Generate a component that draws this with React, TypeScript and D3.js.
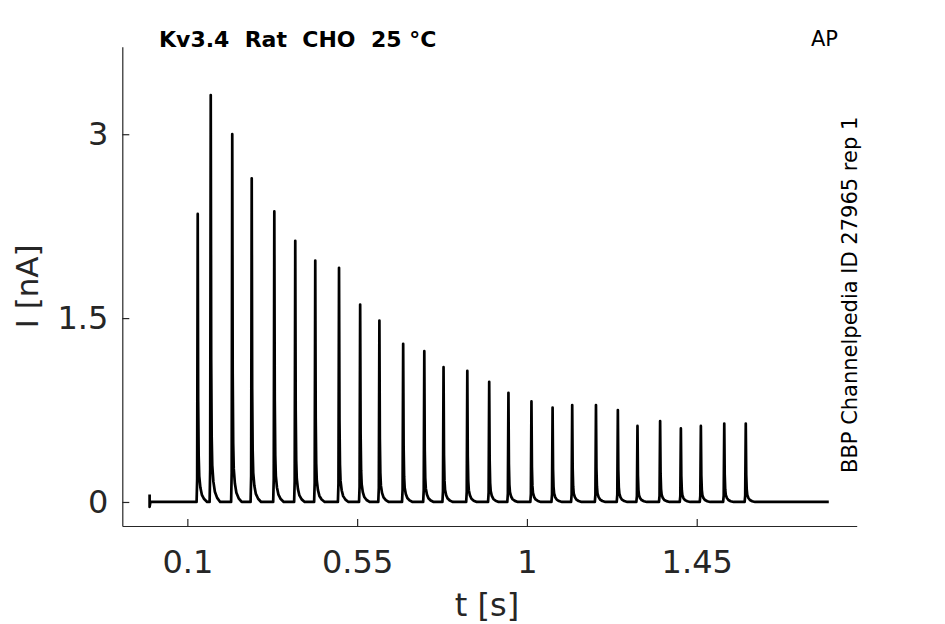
import { useEffect, useRef } from 'react';
import { axisBottom, axisLeft, line, scaleLinear, select } from 'd3';

// AP protocol: peak current of each spike (time in s, current in nA)
const peakTimes = [
  0.1275, 0.162, 0.219, 0.2706, 0.3305, 0.386, 0.439, 0.502, 0.558, 0.609,
  0.672, 0.728, 0.779, 0.842, 0.9, 0.951, 1.012, 1.068, 1.12, 1.183, 1.241,
  1.293, 1.353, 1.408, 1.461, 1.523, 1.58,
];
const peakAmps = [
  2.35, 3.32, 3.0, 2.64, 2.37, 2.13, 1.97, 1.91, 1.61, 1.48, 1.29, 1.23, 1.1,
  1.07, 0.98, 0.89, 0.82, 0.77, 0.79, 0.79, 0.75, 0.62, 0.66, 0.6, 0.62, 0.64,
  0.64,
];
// shape of one spike: offset from peak (s) and fraction of peak
const spikeOffsets = [-0.003, -0.0015, 0, 0.0012, 0.0025, 0.004, 0.007, 0.011, 0.017, 0.025];
const spikeFractions = [0, 0.08, 1, 0.35, 0.16, 0.09, 0.05, 0.025, 0.01, 0];
// start artifact and end of the recording
const traceStart = [
  [0, 0.06],
  [0, -0.04],
  [0.002, 0.0],
];
const traceEnd = 1.8;

const xTicks = [0.1, 0.55, 1, 1.45];
const xTickLabels = ['0.1', '0.55', '1', '1.45'];
const yTicks = [0, 1.5, 3];
const yTickLabels = ['0', '1.5', '3'];

export default function App() {
  const svgRef = useRef<SVGSVGElement>(null);

  useEffect(() => {
    const width = 945;
    const height = 624;
    const font = 'DejaVu Sans, sans-serif';
    const axisColor = '#262626';

    const svg = select(svgRef.current);
    svg.selectAll('*').remove();
    svg.attr('width', width).attr('height', height);

    svg.append('rect').attr('width', width).attr('height', height).attr('fill', '#fff');

    const x = scaleLinear().domain([-0.0724, 1.874]).range([122.3, 856.7]);
    const y = scaleLinear().domain([-0.196, 3.714]).range([526, 46.7]);

    // build the trace
    const pts: [number, number][] = traceStart.map((d) => [d[0], d[1]] as [number, number]);
    peakTimes.forEach((t0, i) => {
      spikeOffsets.forEach((o, j) => {
        pts.push([t0 + o, peakAmps[i] * spikeFractions[j]]);
      });
    });
    pts.push([traceEnd, 0]);

    const path = line<[number, number]>()
      .x((d) => x(d[0]))
      .y((d) => y(d[1]));

    svg
      .append('path')
      .attr('d', path(pts))
      .attr('fill', 'none')
      .attr('stroke', '#000')
      .attr('stroke-width', 2.7)
      .attr('stroke-linejoin', 'round');

    // x axis
    const gx = svg
      .append('g')
      .attr('transform', `translate(0, ${y.range()[0]})`)
      .call(
        axisBottom(x)
          .tickValues(xTicks)
          .tickFormat((_, i) => xTickLabels[i])
          .tickSizeInner(-7)
          .tickSizeOuter(0)
          .tickPadding(24)
      );
    gx.select('.domain').attr('stroke', axisColor).attr('stroke-width', 1.2);
    gx.selectAll('.tick line').attr('stroke', axisColor).attr('stroke-width', 1.2);
    gx.selectAll('.tick text')
      .attr('fill', axisColor)
      .style('font-family', font)
      .style('font-size', '32px');

    // y axis
    const gy = svg
      .append('g')
      .attr('transform', `translate(${x.range()[0]}, 0)`)
      .call(
        axisLeft(y)
          .tickValues(yTicks)
          .tickFormat((_, i) => yTickLabels[i])
          .tickSizeInner(-7)
          .tickSizeOuter(0)
          .tickPadding(14)
      );
    gy.select('.domain').attr('stroke', axisColor).attr('stroke-width', 1.2);
    gy.selectAll('.tick line').attr('stroke', axisColor).attr('stroke-width', 1.2);
    gy.selectAll('.tick text')
      .attr('fill', axisColor)
      .style('font-family', font)
      .style('font-size', '32px');

    // axis labels
    svg
      .append('text')
      .attr('x', 487)
      .attr('y', 616)
      .attr('text-anchor', 'middle')
      .attr('fill', axisColor)
      .style('font-family', font)
      .style('font-size', '32px')
      .text('t [s]');

    svg
      .append('text')
      .attr('transform', `translate(38, ${(y.range()[0] + y.range()[1]) / 2}) rotate(-90)`)
      .attr('text-anchor', 'middle')
      .attr('fill', axisColor)
      .style('font-family', font)
      .style('font-size', '31px')
      .text('I [nA]');

    // title and annotations
    svg
      .append('text')
      .attr('x', 159)
      .attr('y', 46.5)
      .attr('fill', '#000')
      .style('font-family', font)
      .style('font-size', '22px')
      .style('font-weight', 'bold')
      .style('white-space', 'pre')
      .text('Kv3.4  Rat  CHO  25 °C');

    svg
      .append('text')
      .attr('x', 811)
      .attr('y', 46)
      .attr('fill', '#000')
      .style('font-family', font)
      .style('font-size', '21px')
      .text('AP');

    svg
      .append('text')
      .attr('transform', 'translate(857, 473) rotate(-90)')
      .attr('fill', '#000')
      .style('font-family', font)
      .style('font-size', '21px')
      .text('BBP Channelpedia ID 27965 rep 1');
  }, []);

  return (
    <div style={{ position: 'absolute', left: 0, top: 0 }}>
      <svg ref={svgRef}></svg>
    </div>
  );
}
